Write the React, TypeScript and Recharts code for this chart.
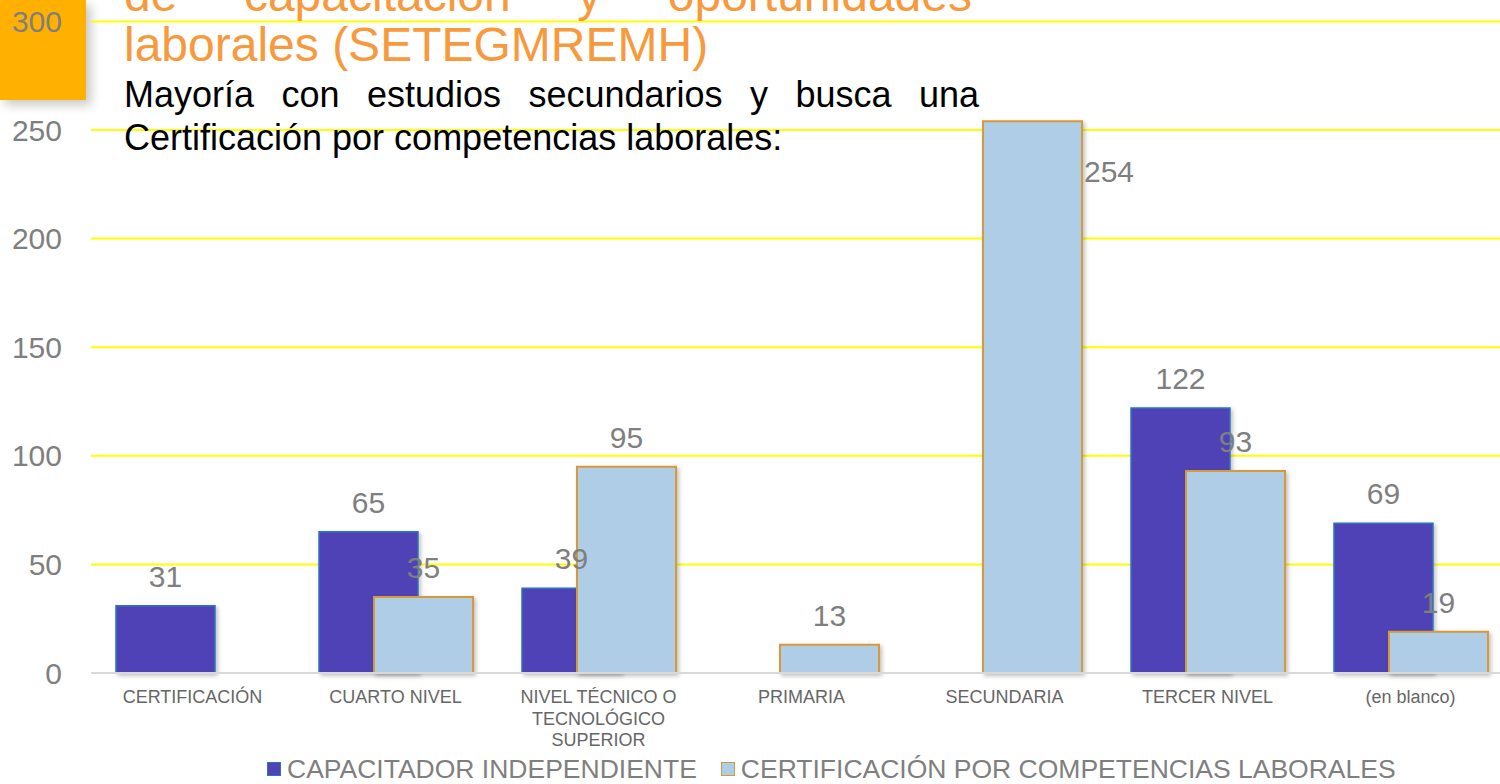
import React from "react";
import { Bar, BarChart, CartesianGrid, LabelList, Legend, XAxis, YAxis } from "recharts";

const categories = [
	"CERTIFICACIÓN",
	"CUARTO NIVEL",
	"NIVEL TÉCNICO O\nTECNOLÓGICO\nSUPERIOR",
	"PRIMARIA",
	"SECUNDARIA",
	"TERCER NIVEL",
	"(en blanco)"
];
const capacitador = [31, 65, 39, null, null, 122, 69];
const certificacion = [null, 35, 95, 13, 254, 93, 19];
const yTicks = [0, 50, 100, 150, 200, 250, 300];

const SERIES_A = "CAPACITADOR INDEPENDIENTE";
const SERIES_B = "CERTIFICACIÓN POR COMPETENCIAS LABORALES";

const rows = categories.map((category, i) => ({
	category,
	a: capacitador[i],
	b: certificacion[i]
}));

const FONT = '"Liberation Sans", Arial, sans-serif';
const GRAY = "#7f7f7f";

const DARK = { fill: "#5042b7", stroke: "#2e75b6" };
const LIGHT = { fill: "#afcde7", stroke: "#d69a3a" };

function XTick(props: any) {
	const { x, y, payload } = props;
	const lines = String(payload.value).split("\n");
	return (
		<text x={x} y={y + 30} textAnchor="middle" fill="#666" fontSize={18} fontFamily={FONT}>
			{lines.map((line, i) => (
				<tspan key={i} x={x} dy={i === 0 ? 0 : 21.5}>
					{line}
				</tspan>
			))}
		</text>
	);
}

function valueLabel(props: any) {
	const { x, y, width, value } = props;
	if (value === null || value === undefined) return null;
	const top = Number(y);
	// tall bar: Excel pushes the label to the right side
	const aside = top < 150;
	return (
		<text
			x={aside ? Number(x) + Number(width) + 2 : Number(x) + Number(width) / 2}
			y={aside ? top + 61 : top - 19}
			textAnchor={aside ? "start" : "middle"}
			fill={GRAY}
			fontSize={30}
			fontFamily={FONT}
		>
			{value}
		</text>
	);
}

function LegendBox() {
	const item = (colors: { fill: string; stroke: string }, label: string) => (
		<span style={{ display: "inline-flex", alignItems: "center", marginRight: 24 }}>
			<span
				style={{
					display: "inline-block",
					width: 12,
					height: 12,
					background: colors.fill,
					border: `1.5px solid ${colors.stroke}`,
					marginRight: 6
				}}
			/>
			<span>{label}</span>
		</span>
	);
	return (
		<div style={{ paddingLeft: 267, fontSize: 26.5, color: GRAY, fontFamily: FONT, whiteSpace: "nowrap", lineHeight: "30px" }}>
			{item(DARK, SERIES_A)}
			{item(LIGHT, SERIES_B)}
		</div>
	);
}

export default function App() {
	return (
		<div
			style={{
				position: "absolute",
				left: 0,
				top: 0,
				width: 1500,
				height: 784,
				overflow: "hidden",
				background: "#fff",
				fontFamily: FONT
			}}
		>
			<div
				style={{
					position: "absolute",
					left: 0,
					top: 0,
					width: 86,
					height: 100,
					background: "#ffb000",
					boxShadow: "5px 5px 10px rgba(0,0,0,0.22)"
				}}
			/>
			<div style={{ position: "absolute", left: 0, top: 0 }}>
				<BarChart
					width={1520}
					height={784}
					data={rows}
					margin={{ top: 21.4, right: 8, left: 0, bottom: 0 }}
					barSize={99}
					barGap={-44}
				>
					<defs>
						<filter id="barShadow" x="-10%" y="-10%" width="130%" height="130%">
							<feDropShadow dx="2" dy="2" stdDeviation="2" floodColor="#000" floodOpacity="0.25" />
						</filter>
					</defs>
					<CartesianGrid vertical={false} stroke="#ffff00" strokeWidth={2} />
					<XAxis
						dataKey="category"
						height={111}
						interval={0}
						tick={<XTick />}
						tickLine={false}
						tickSize={0}
						tickMargin={0}
						axisLine={{ stroke: "#d9d9d9", strokeWidth: 2 }}
					/>
					<YAxis
						width={91}
						domain={[0, 300]}
						ticks={yTicks}
						axisLine={false}
						tickLine={false}
						tickSize={0}
						tickMargin={29}
						tick={{ fill: GRAY, fontSize: 30, fontFamily: FONT }}
					/>
					<Legend
						layout="vertical"
						verticalAlign="middle"
						align="center"
						wrapperStyle={{ left: 0, top: 752, width: 1500, height: 30 }}
						content={() => <LegendBox />}
					/>
					<Bar
						dataKey="a"
						name={SERIES_A}
						fill={DARK.fill}
						stroke={DARK.stroke}
						strokeWidth={1.5}
						filter="url(#barShadow)"
						isAnimationActive={false}
					>
						<LabelList dataKey="a" content={valueLabel} />
					</Bar>
					<Bar
						dataKey="b"
						name={SERIES_B}
						fill={LIGHT.fill}
						stroke={LIGHT.stroke}
						strokeWidth={2}
						filter="url(#barShadow)"
						isAnimationActive={false}
					>
						<LabelList dataKey="b" content={valueLabel} />
					</Bar>
				</BarChart>
			</div>
			<div
				style={{
					position: "absolute",
					left: 124,
					top: -29.6,
					width: 848,
					fontSize: 48,
					lineHeight: "50px",
					color: "#f79a3e",
					textAlign: "justify"
				}}
			>
				de capacitación y oportunidades laborales (SETEGMREMH)
			</div>
			<div
				style={{
					position: "absolute",
					left: 124,
					top: 73,
					width: 855,
					fontSize: 36,
					lineHeight: "43px",
					color: "#000",
					textAlign: "justify"
				}}
			>
				Mayoría con estudios secundarios y busca una Certificación por competencias laborales:
			</div>
		</div>
	);
}
